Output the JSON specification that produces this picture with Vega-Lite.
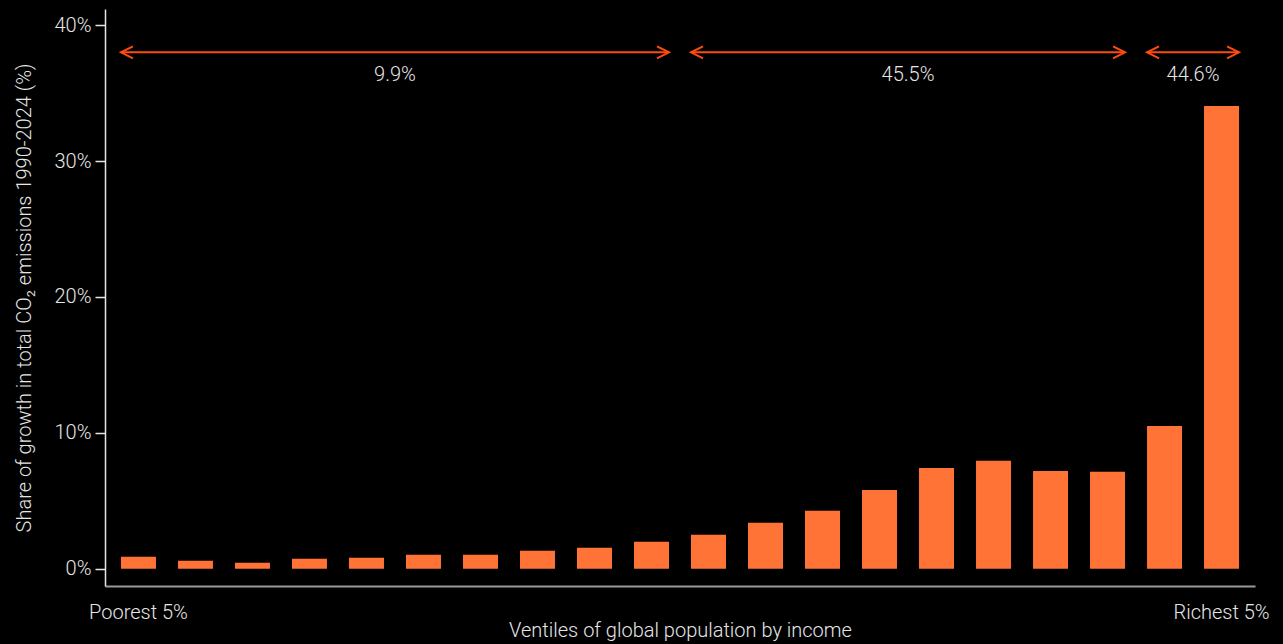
{
  "$schema": "https://vega.github.io/schema/vega-lite/v6.json",
  "autosize": "none",
  "padding": {"left": 105, "top": 9, "right": 28, "bottom": 58},
  "width": 1150,
  "height": 577,
  "background": "#000000",
  "config": {
    "view": {"stroke": null},
    "font": "Roboto",
    "axis": {"grid": false, "labelFont": "Roboto", "titleFont": "Roboto", "labelColor": "#e6e6e6", "titleColor": "#e6e6e6", "labelFontWeight": 300, "titleFontWeight": 300}
  },
  "datasets": {
    "bars": [
      {"v": 1, "share": 0.88},
      {"v": 2, "share": 0.59},
      {"v": 3, "share": 0.44},
      {"v": 4, "share": 0.74},
      {"v": 5, "share": 0.81},
      {"v": 6, "share": 1.03},
      {"v": 7, "share": 1.03},
      {"v": 8, "share": 1.32},
      {"v": 9, "share": 1.54},
      {"v": 10, "share": 1.99},
      {"v": 11, "share": 2.5},
      {"v": 12, "share": 3.38},
      {"v": 13, "share": 4.27},
      {"v": 14, "share": 5.8},
      {"v": 15, "share": 7.42},
      {"v": 16, "share": 7.94},
      {"v": 17, "share": 7.2},
      {"v": 18, "share": 7.13},
      {"v": 19, "share": 10.5},
      {"v": 20, "share": 34.05}
    ],
    "groups": [
      {"start": 1, "end": 10, "mid": 5, "label": "9.9%"},
      {"start": 11, "end": 18, "mid": 14, "label": "45.5%"},
      {"start": 19, "end": 20, "mid": 19, "label": "44.6%"}
    ]
  },
  "layer": [
    {
      "data": {"name": "bars"},
      "mark": {"type": "bar", "color": "#ff7337"},
      "encoding": {
        "x": {
          "field": "v", "type": "ordinal",
          "scale": {"domain": [1,2,3,4,5,6,7,8,9,10,11,12,13,14,15,16,17,18,19,20], "paddingInner": 0.386, "paddingOuter": 0.28},
          "axis": {
            "title": "Ventiles of global population by income",
            "labelExpr": "datum.value == 1 ? 'Poorest 5%' : (datum.value == 20 ? 'Richest 5%' : '')",
            "labelAngle": 0, "ticks": false, "labelPadding": 16, "labelFontSize": 20,
            "titleFontSize": 20, "titlePadding": -2,
            "domainColor": "#9a9a9a", "domainWidth": 2
          }
        },
        "y": {
          "field": "share", "type": "quantitative",
          "scale": {"domain": [-1.27, 41.19], "nice": false, "zero": false},
          "axis": {
            "title": "Share of growth in total CO₂ emissions 1990-2024 (%)",
            "values": [0, 10, 20, 30, 40],
            "labelExpr": "datum.value + '%'",
            "labelFontSize": 20, "titleFontSize": 20, "tickSize": 10, "tickColor": "#e6e6e6", "tickWidth": 1.5,
            "labelPadding": 4, "titlePadding": 20,
            "domainColor": "#e6e6e6", "domainWidth": 1.5
          }
        },
        "y2": {"datum": 0}
      }
    },
    {
      "data": {"name": "groups"},
      "mark": {"type": "rule", "color": "#ff4a12", "strokeWidth": 2},
      "encoding": {
        "x": {"field": "start", "type": "ordinal", "bandPosition": 0},
        "x2": {"field": "end", "bandPosition": 1},
        "y": {"datum": 38}
      }
    },
    {
      "data": {"name": "groups"},
      "mark": {"type": "point", "shape": "M 2 -1 L 0 0 L 2 1", "size": 144, "filled": false, "stroke": "#ff4a12", "strokeWidth": 2, "opacity": 1},
      "encoding": {
        "x": {"field": "start", "type": "ordinal", "bandPosition": 0},
        "y": {"datum": 38}
      }
    },
    {
      "data": {"name": "groups"},
      "mark": {"type": "point", "shape": "M -2 -1 L 0 0 L -2 1", "size": 144, "filled": false, "stroke": "#ff4a12", "strokeWidth": 2, "opacity": 1},
      "encoding": {
        "x": {"field": "end", "type": "ordinal", "bandPosition": 1},
        "y": {"datum": 38}
      }
    },
    {
      "data": {"name": "groups"},
      "mark": {"type": "text", "color": "#e6e6e6", "fontSize": 20, "fontWeight": 300, "font": "Roboto", "baseline": "middle"},
      "encoding": {
        "x": {"field": "mid", "type": "ordinal", "bandPosition": 1.314},
        "y": {"datum": 36.3},
        "text": {"field": "label"}
      }
    }
  ]
}
